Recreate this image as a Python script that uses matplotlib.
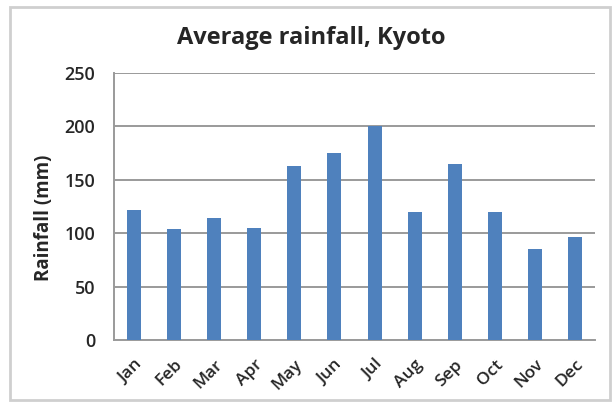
import matplotlib
matplotlib.use("Agg")
import matplotlib.pyplot as plt
from matplotlib.patches import Rectangle
from matplotlib.transforms import ScaledTranslation

months = ["Jan", "Feb", "Mar", "Apr", "May", "Jun", "Jul", "Aug", "Sep", "Oct", "Nov", "Dec"]
rainfall = [122, 104, 114, 105, 163, 175, 200, 120, 165, 120, 85, 96]
yticks = [0, 50, 100, 150, 200, 250]

plt.rcParams['font.family'] = ['Open Sans', 'DejaVu Sans']
TXT = "#262626"

fig = plt.figure(figsize=(6.12, 4.05), dpi=100)
fig.patch.set_facecolor("white")
fig.patches.append(Rectangle((10/612, 5/405), 600/612, 393/405, transform=fig.transFigure,
                             fill=False, edgecolor="#cfcfcf", linewidth=2))

ax = fig.add_axes([114/612, 1-340/405, (595-114)/612, (340-73)/405])
x = range(len(months))
ax.bar(x, rainfall, width=0.35, color="#4F81BD", zorder=3)
ax.set_xlim(-0.5, len(months)-0.5)
ax.set_ylim(0, 250)
ax.set_yticks(yticks)
ax.set_yticklabels([str(v) for v in yticks], fontsize=13, fontweight="semibold", color=TXT)
ax.set_xticks(list(x))
ax.set_xticklabels(months, rotation=45, ha="right", va="top", rotation_mode="anchor",
                   fontsize=12.5, fontweight="semibold", color=TXT)
for lbl in ax.get_xticklabels():
    lbl.set_transform(lbl.get_transform() + ScaledTranslation(6/100, 0, fig.dpi_scale_trans))
ax.tick_params(axis="both", length=0)
ax.tick_params(axis="y", pad=13.5)
ax.tick_params(axis="x", pad=12)
ax.grid(axis="y", color="#9a9a9a", linewidth=1.4, zorder=0)
for s in ["top", "right"]:
    ax.spines[s].set_visible(False)
for s in ["left", "bottom"]:
    ax.spines[s].set_color("#9a9a9a")
    ax.spines[s].set_linewidth(1.4)
fig.text(44/612, 1-218/405, "Rainfall (mm)", rotation=90, ha="center", va="center",
         fontsize=13.5, fontweight="bold", color=TXT)
fig.text(311/612, 1-44/405, "Average rainfall, Kyoto", ha="center", va="baseline",
         fontsize=17, fontweight="bold", color=TXT)

fig.savefig("out.png", dpi=100, facecolor="white")
